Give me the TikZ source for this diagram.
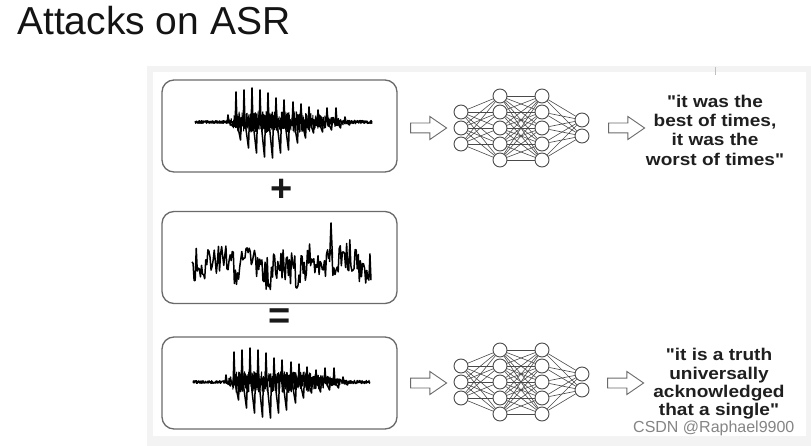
\documentclass[tikz,border=0pt]{standalone}
\usepackage{fontspec}
\setmainfont{Liberation Sans}
\newfontfamily\qfont{Liberation Sans}[FakeStretch=1.12]
\usetikzlibrary{shapes.arrows}
\definecolor{panelgray}{HTML}{F3F3F3}
\definecolor{boxgray}{HTML}{6A6A6A}
\definecolor{netgray}{HTML}{4A4A4A}
\pgfmathdeclarefunction{bodyA}{1}{%
  \pgfmathparse{(#1<228) ? 1.5 : ((#1<238) ? (1.5+(#1-228)*0.9) : ((#1<305) ? 10.5 : ((#1<348) ? (10.5-(#1-305)*0.2) : 1.8)))}%
}
\tikzset{
  wbox/.style={draw=boxgray, line width=1.3pt, rounded corners=12pt, minimum width=235pt, minimum height=92pt, inner sep=0pt},
  wave/.style={line width=1pt, black, line join=round},
  spike/.style={line width=1.5pt, black, line join=round},
  noisy/.style={line width=1.5pt, black, line join=round},
  neuron/.style={circle, draw=netgray, fill=white, line width=0.9pt, minimum size=14pt, inner sep=0pt},
  edge/.style={draw=netgray, line width=0.6pt},
  blockarrow/.style={single arrow, draw=boxgray, fill=white, line width=0.9pt, inner xsep=0pt, inner ysep=4.5pt,
    text height=0pt, text depth=0pt, single arrow head extend=6.5pt, single arrow tip angle=69, minimum height=36pt},
  quote/.style={align=center, inner sep=0pt, anchor=north, text=black!88},
  sym/.style={font=\bfseries\fontsize{38}{38}\selectfont, inner sep=0pt, text=black!90}
}
\newcommand\speechwave[2]{%
  \begin{scope}[xshift=#1]
    \draw[wave] plot[domain=195:372, samples=900] (\x, {#2 + bodyA(\x)*rand});
    \foreach \sx/\st/\sb in {228/7/4, 236/30/18, 244/32/26, 252/34/31, 260/32/35, 268/29/36, 276/24/31, 284/22/28, 293/20/21, 301/18/16, 309/15/11, 318/12/10, 327/14/8, 336/14/6, 345/5/3}{
      \draw[spike] (\sx-0.8,#2) -- (\sx,{#2-\st}) -- (\sx+1,#2) -- (\sx+4.5,{#2+\sb}) -- (\sx+5.3,#2);
    }
  \end{scope}}
\newcommand\nnet[2]{%
  \node[neuron] (#1a1) at (461,{#2-16}) {};
  \node[neuron] (#1a2) at (461,#2) {};
  \node[neuron] (#1a3) at (461,{#2+16}) {};
  \foreach \j/\yy in {1/-32,2/-16,3/0,4/16,5/32}{
    \node[neuron] (#1b\j) at (500,{#2+\yy}) {};
    \node[neuron] (#1c\j) at (542,{#2+\yy}) {};
  }
  \node[neuron] (#1d1) at (582,{#2-8}) {};
  \node[neuron] (#1d2) at (582,{#2+8}) {};
  \foreach \i in {1,2,3}{\foreach \j in {1,...,5}{\draw[edge] (#1a\i) -- (#1b\j);}}
  \foreach \i in {1,...,5}{\foreach \j in {1,...,5}{\draw[edge] (#1b\i) -- (#1c\j);}}
  \foreach \i in {1,...,5}{\foreach \j in {1,2}{\draw[edge] (#1c\i) -- (#1d\j);}}
}
\begin{document}
\begin{tikzpicture}[x=1pt, y=-1pt]
  \useasboundingbox (0,0) rectangle (811,446);
  \fill[white] (0,0) rectangle (811,446);
  \fill[panelgray] (147,66) rectangle (811,446);
  \fill[white] (153,72) rectangle (806,436);
  \draw[black!25, line width=1pt] (715,67) -- (715,75);

  % title
  \node[anchor=base west, inner sep=0pt, font=\fontsize{39}{39}\selectfont, text=black!92] (title) at (17,35) {Attacks on ASR};

  % boxes
  \node[wbox] (box1) at (279.5,126) {};
  \node[wbox] (box2) at (279.5,257.5) {};
  \node[wbox] (box3) at (279.5,383) {};

  \node[sym] (plus) at (282,190) {+};
  \node[sym] (equal) at (280,319) {=};

  % waveforms
  \pgfmathsetseed{7}
  \speechwave{0pt}{122}
  \speechwave{-2pt}{382}
  \draw[noisy] plot[domain=192:371, samples=170] (\x, {265 + 5*sin(3*\x) + 5*sin(11*\x+40) + 18*rand});
  \draw[noisy] (329.5,262) -- (331,223) -- (332.5,258);

  % networks
  \nnet{t}{128}
  \nnet{u}{382}

  % arrows
  \node[blockarrow] (arrA) at (425,128) {};
  \node[blockarrow] (arrB) at (623,128) {};
  \node[blockarrow] (arrC) at (425,383) {};
  \node[blockarrow] (arrD) at (622,383) {};

  % outputs
  \node[quote, font=\qfont\bfseries\fontsize{17}{19.4}\selectfont] (out1) at (715,94.5)
    {"it was the\\best of times,\\it was the\\worst of times"};
  \node[quote, font=\qfont\bfseries\fontsize{17}{18.3}\selectfont] (out2) at (719,348.3)
    {"it is a truth\\universally\\acknowledged\\that a single"};

  % watermark
  \node[anchor=base west, inner sep=0pt, font=\fontsize{16}{16}\selectfont, text=black!48] (wm) at (633,432) {CSDN @Raphael9900};
\end{tikzpicture}
\end{document}
